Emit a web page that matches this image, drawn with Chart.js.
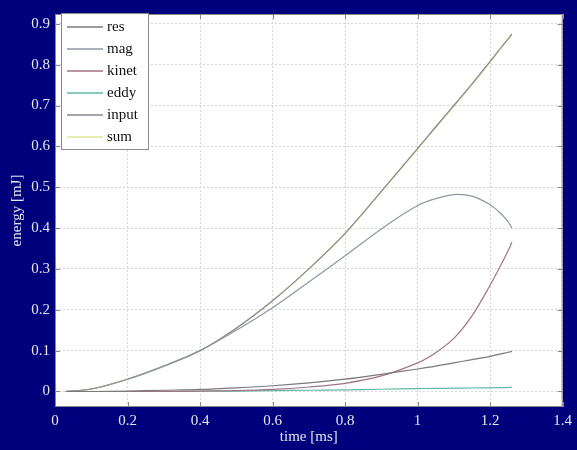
<!DOCTYPE html>
<html>
<head>
<meta charset="utf-8">
<script src="https://cdn.jsdelivr.net/npm/chart.js@4.4.1/dist/chart.umd.min.js"></script>
<style>
  html, body { margin: 0; padding: 0; background: #00007c; }
  #wrap { width: 577px; height: 450px; }
</style>
</head>
<body>
<div id="wrap"><canvas id="energyChart" width="577" height="450"></canvas></div>
<script>
// temps [ms] et énergies [mJ]
const time  = [0.03, 0.1, 0.2, 0.3, 0.4, 0.5, 0.6, 0.7, 0.8, 0.9, 1.0, 1.05, 1.1, 1.15, 1.2, 1.23, 1.25, 1.26];
const res   = [0, 0, 0.001, 0.003, 0.005, 0.009, 0.014, 0.021, 0.03, 0.042, 0.055, 0.062, 0.07, 0.078, 0.086, 0.092, 0.096, 0.098];
const mag   = [0, 0.006, 0.03, 0.062, 0.1, 0.15, 0.205, 0.268, 0.332, 0.398, 0.455, 0.472, 0.482, 0.478, 0.457, 0.435, 0.415, 0.40];
const kinet = [0, 0, 0, 0, 0.001, 0.002, 0.005, 0.011, 0.02, 0.038, 0.07, 0.095, 0.13, 0.185, 0.26, 0.31, 0.345, 0.365];
const eddy  = [0, 0, 0, 0, 0.0005, 0.001, 0.002, 0.003, 0.004, 0.0055, 0.007, 0.0075, 0.008, 0.0085, 0.009, 0.0095, 0.0098, 0.01];
const input = [0, 0.006, 0.03, 0.062, 0.1, 0.155, 0.222, 0.3, 0.387, 0.49, 0.595, 0.648, 0.70, 0.753, 0.808, 0.842, 0.864, 0.875];
const sum   = [0, 0.006, 0.03, 0.062, 0.1, 0.155, 0.222, 0.3, 0.386, 0.489, 0.593, 0.646, 0.698, 0.751, 0.806, 0.84, 0.862, 0.873];

const yTicks = [0, 0.1, 0.2, 0.3, 0.4, 0.5, 0.6, 0.7, 0.8, 0.9];
const xTicks = [0, 0.2, 0.4, 0.6, 0.8, 1.0, 1.2, 1.4];

const serif = '"Liberation Serif", "DejaVu Serif", serif';

function serie(label, valores, cor, largura) {
  return {
    label: label,
    data: time.map((t, i) => ({ x: t, y: valores[i] })),
    borderColor: cor,
    borderWidth: largura || 1.2,
    pointRadius: 0,
    fill: false,
    tension: 0.3
  };
}

// fundo branco da área do gráfico + ticks internos
const plotBox = {
  id: 'plotBox',
  beforeDraw(chart) {
    const { ctx, chartArea: a } = chart;
    ctx.save();
    ctx.fillStyle = '#ffffff';
    ctx.fillRect(a.left, a.top, a.right - a.left, a.bottom - a.top);
    ctx.restore();
  },
  afterDatasetsDraw(chart) {
    const { ctx, chartArea: a, scales } = chart;
    ctx.save();
    ctx.strokeStyle = '#888888';
    ctx.lineWidth = 1;
    ctx.beginPath();
    yTicks.forEach(v => {
      const y = Math.round(scales.y.getPixelForValue(v)) + 0.5;
      ctx.moveTo(a.left, y); ctx.lineTo(a.left + 5, y);
      ctx.moveTo(a.right, y); ctx.lineTo(a.right - 5, y);
    });
    xTicks.forEach(v => {
      const x = Math.round(scales.x.getPixelForValue(v)) + 0.5;
      ctx.moveTo(x, a.bottom); ctx.lineTo(x, a.bottom - 5);
      ctx.moveTo(x, a.top); ctx.lineTo(x, a.top + 5);
    });
    ctx.stroke();
    ctx.strokeRect(a.left + 0.5, a.top + 0.5, a.right - a.left - 1, a.bottom - a.top - 1);
    ctx.restore();
  },
  afterDraw(chart) {
    // legenda dentro do gráfico, no canto superior esquerdo
    const ctx = chart.ctx;
    const bx = 61, by = 13, bw = 87, bh = 136;
    ctx.save();
    ctx.fillStyle = '#ffffff';
    ctx.fillRect(bx, by, bw, bh);
    ctx.strokeStyle = '#8a8a8a';
    ctx.lineWidth = 1;
    ctx.strokeRect(bx + 0.5, by + 0.5, bw, bh);
    ctx.font = '15px ' + serif;
    ctx.textBaseline = 'middle';
    chart.data.datasets.forEach((ds, i) => {
      const y = 27 + i * 22;
      ctx.strokeStyle = ds.borderColor;
      ctx.lineWidth = 1.5;
      ctx.beginPath();
      ctx.moveTo(67, y);
      ctx.lineTo(103, y);
      ctx.stroke();
      ctx.fillStyle = '#111111';
      ctx.fillText(ds.label, 107, y);
    });
    ctx.restore();
  }
};

const ctx = document.getElementById('energyChart').getContext('2d');
new Chart(ctx, {
  type: 'line',
  data: {
    datasets: [
      serie('res', res, '#7a7a7a'),
      serie('mag', mag, '#8e98a2'),
      serie('kinet', kinet, '#a07484'),
      serie('eddy', eddy, '#62b8a8'),
      serie('input', input, '#8c8494', 1.2),
      serie('sum', sum, '#e0e69a', 1.4)
    ]
  },
  options: {
    responsive: false,
    animation: false,
    layout: { padding: { top: 6, right: 11, left: 0, bottom: 0 } },
    plugins: {
      legend: { display: false },
      tooltip: { enabled: false }
    },
    scales: {
      x: {
        type: 'linear',
        min: 0,
        max: 1.4,
        afterBuildTicks: scale => { scale.ticks = xTicks.map(v => ({ value: v })); },
        afterFit: scale => { scale.height = 43; },
        border: { display: false, dash: [2, 2] },
        grid: { color: '#d6d6d6', drawTicks: false },
        ticks: {
          padding: 5,
          color: '#e4e4ea',
          font: { family: serif, size: 15 },
          maxRotation: 0,
          callback: v => String(Number(v.toFixed(1)))
        },
        title: {
          display: true,
          text: 'time [ms]',
          color: '#e4e4ea',
          font: { family: serif, size: 15 },
          padding: { top: 0, bottom: 4 }
        }
      },
      y: {
        type: 'linear',
        min: -0.038,
        max: 0.924,
        afterBuildTicks: scale => { scale.ticks = yTicks.map(v => ({ value: v })); },
        afterFit: scale => { scale.width = 55; },
        border: { display: false, dash: [2, 2] },
        grid: { color: '#d6d6d6', drawTicks: false },
        ticks: {
          padding: 5,
          color: '#e4e4ea',
          font: { family: serif, size: 15 },
          callback: v => String(Number(v.toFixed(1)))
        },
        title: {
          display: true,
          text: 'energy [mJ]',
          color: '#e4e4ea',
          font: { family: serif, size: 15 },
          padding: { top: 8, bottom: 0 }
        }
      }
    }
  },
  plugins: [plotBox]
});
</script>
</body>
</html>
